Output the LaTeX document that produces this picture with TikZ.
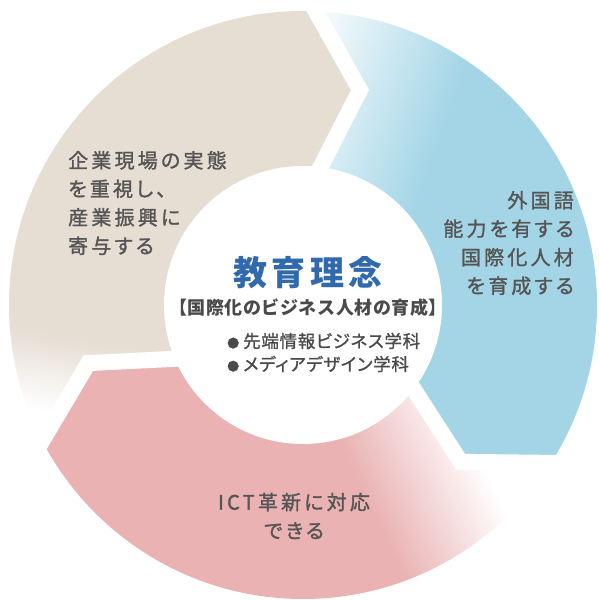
\documentclass[tikz,border=0pt]{standalone}
\usepackage{fontspec}
\newfontfamily\jplab[RawFeature=+palt,LetterSpace=16,FakeBold=1.3]{Noto Sans CJK JP}
\newfontfamily\jpt[RawFeature=+palt,LetterSpace=13]{Noto Sans CJK JP}
\newfontfamily\jpsub[LetterSpace=3]{Noto Sans CJK JP}
\newfontfamily\jpbul[RawFeature=+palt,LetterSpace=4,FakeBold=1.1]{Noto Sans CJK JP}
\definecolor{beigec}{HTML}{E6DDD3}
\definecolor{bluec}{HTML}{A3D5E6}
\definecolor{pinkc}{HTML}{EAB2B3}
\definecolor{labgray}{HTML}{555555}
\definecolor{titleblue}{HTML}{3069AE}
\definecolor{subgray}{HTML}{4A4A4A}
\pgfdeclarehorizontalshading{blueshade}{100bp}{color(0bp)=(white); color(42bp)=(white); color(56bp)=(bluec); color(100bp)=(bluec)}
\pgfdeclarehorizontalshading{beigeshade}{100bp}{color(0bp)=(white); color(37.5bp)=(white); color(44bp)=(beigec); color(100bp)=(beigec)}
\pgfdeclarehorizontalshading{pinkshade}{100bp}{color(0bp)=(pinkc); color(48bp)=(pinkc); color(58bp)=(white); color(100bp)=(white)}
\tikzset{
  lab/.style={text=labgray, inner sep=0pt, font={\jplab\fontsize{20}{28.5}\selectfont}},
  gapline/.style={white, line width=16pt, line join=miter},
  bul/.style={anchor=west, inner sep=0pt, text=subgray, font={\jpbul\fontsize{17.5}{17.5}\selectfont}}
}
\begin{document}
\begin{tikzpicture}[x=1pt,y=1pt]
\useasboundingbox (0,0) rectangle (599,600);
\begin{scope}[shift={(303,295)}]
  % chevron gap centre lines
  \coordinate (c0o) at (89.86:315);
  \coordinate (c0t) at (75.15:222.4);
  \coordinate (c0i) at (88.7:108.6);
  \coordinate (c1o) at (-30.14:315);
  \coordinate (c1t) at (-44.85:222.4);
  \coordinate (c1i) at (-31.3:108.6);
  \coordinate (c2o) at (209.86:315);
  \coordinate (c2t) at (195.15:222.4);
  \coordinate (c2i) at (208.7:108.6);
  % beige segment
  \begin{scope}
    \clip (0,0) circle (294);
    \clip (c0o)--(c0t)--(c0i)--(0,0)--(c2i)--(c2t)--(c2o)--(209.86:450)--(150:450)--(89.86:450)--cycle;
    \shade[shading=beigeshade, shading angle=80] (-300,-300) rectangle (300,300);
  \end{scope}
  % blue segment
  \begin{scope}
    \clip (0,0) circle (294);
    \clip (c1o)--(c1t)--(c1i)--(0,0)--(c0i)--(c0t)--(c0o)--(89.86:450)--(30:450)--(-30.14:450)--cycle;
    \shade[shading=blueshade, shading angle=-20] (-300,-300) rectangle (300,300);
  \end{scope}
  % pink segment
  \begin{scope}
    \clip (0,0) circle (294);
    \clip (c2o)--(c2t)--(c2i)--(0,0)--(c1i)--(c1t)--(c1o)--(-30.14:450)--(-90:450)--(-150.14:450)--cycle;
    \shade[shading=pinkshade, shading angle=25] (-300,-300) rectangle (300,300);
  \end{scope}
  % gaps
  \draw[gapline] (c0o)--(c0t)--(c0i);
  \draw[gapline] (c1o)--(c1t)--(c1i);
  \draw[gapline] (c2o)--(c2t)--(c2i);
  % centre disc
  \fill[white] (0,0) circle (139);
\end{scope}
\node[lab, anchor=west, align=left] (lblA) at (68,397) {企業現場の実態\\を重視し、\\産業振興に\\寄与する};
\node[lab, anchor=east, align=right] (lblB) at (574,357) {外国語\\能力を有する\\国際化人材\\を育成する};
\node[lab, align=center] (lblC) at (294,84) {ICT革新に対応\\できる};
\node[inner sep=0pt, text=titleblue, font={\jpt\bfseries\fontsize{34}{34}\selectfont}] (title) at (308,327) {教育理念};
\node[inner sep=0pt, text=subgray, font={\jpsub\bfseries\fontsize{18}{18}\selectfont}] (sub) at (308,292) {【国際化のビジネス人材の育成】};
\node[bul] (b1) at (227,259) {{\fontsize{12}{12}\selectfont ●}\hspace{4pt}先端情報ビジネス学科};
\node[bul] (b2) at (227,236) {{\fontsize{12}{12}\selectfont ●}\hspace{4pt}メディアデザイン学科};
\end{tikzpicture}
\end{document}
